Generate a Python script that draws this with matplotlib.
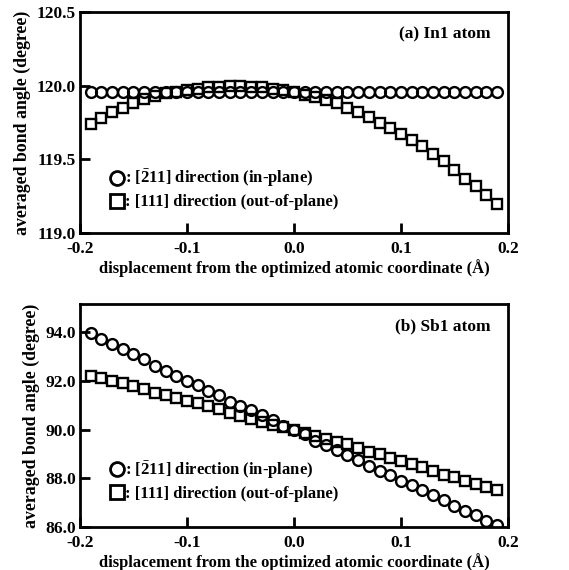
import matplotlib
matplotlib.use("Agg")
import matplotlib.pyplot as plt
from matplotlib.lines import Line2D
import numpy as np

plt.rcParams["font.family"] = ["Liberation Serif", "DejaVu Serif"]
plt.rcParams["font.weight"] = "bold"
plt.rcParams["mathtext.fontset"] = "custom"
plt.rcParams["mathtext.rm"] = "Liberation Serif:bold"
plt.rcParams["mathtext.bf"] = "Liberation Serif:bold"

# displacement (Angstrom)
disp = [round(-0.19 + 0.01 * i, 2) for i in range(39)]

# (a) In1 atom
in1_inplane = [119.96] * 39
in1_outplane = [119.74, 119.78, 119.82, 119.85, 119.88, 119.91, 119.93, 119.95,
                119.96, 119.97, 119.98, 119.99, 119.99, 120.00, 120.00, 119.99,
                119.99, 119.98, 119.97, 119.96, 119.94, 119.92, 119.90, 119.88,
                119.85, 119.82, 119.79, 119.75, 119.71, 119.67, 119.63, 119.59,
                119.54, 119.49, 119.43, 119.37, 119.32, 119.26, 119.20]

# (b) Sb1 atom
sb1_inplane = [93.95, 93.70, 93.50, 93.30, 93.10, 92.90, 92.62, 92.42, 92.20,
               92.00, 91.82, 91.60, 91.40, 91.12, 90.98, 90.80, 90.60, 90.40,
               90.15, 90.00, 89.80, 89.55, 89.38, 89.15, 88.95, 88.75, 88.50,
               88.30, 88.15, 87.90, 87.72, 87.50, 87.30, 87.10, 86.85, 86.66,
               86.50, 86.26, 86.10]
sb1_outplane = [92.20, 92.10, 91.98, 91.90, 91.78, 91.66, 91.52, 91.40, 91.28,
                91.18, 91.08, 90.95, 90.85, 90.70, 90.56, 90.42, 90.30, 90.20,
                90.10, 90.00, 89.86, 89.75, 89.62, 89.50, 89.40, 89.25, 89.10,
                89.00, 88.85, 88.70, 88.60, 88.45, 88.30, 88.15, 88.05, 87.90,
                87.76, 87.65, 87.50]

labels = [r": [$\bar{2}$11] direction (in-plane)", ": [111] direction (out-of-plane)"]

fig = plt.figure(figsize=(5.69, 5.70), dpi=100)
ax1 = fig.add_axes([0.1406, 0.591, 0.752, 0.388])
ax2 = fig.add_axes([0.1406, 0.0754, 0.752, 0.391])

panels = [
    (ax1, in1_inplane, in1_outplane, (119.0, 120.5), [119.0, 119.5, 120.0, 120.5], "(a) In1 atom", 0.035),
    (ax2, sb1_inplane, sb1_outplane, (86.0, 95.15), [86.0, 88.0, 90.0, 92.0, 94.0], "(b) Sb1 atom", 0.045),
]

for ax, inp, outp, ylim, yticks, title, ly in panels:
    ax.plot(disp, inp, "o", ms=7.8, mfc="none", mec="black", mew=1.7)
    ax.plot(disp, outp, "s", ms=7.8, mfc="none", mec="black", mew=1.7)
    ax.set_xlim(-0.2, 0.2)
    ax.set_ylim(*ylim)
    ax.set_xticks([-0.2, -0.1, 0.0, 0.1, 0.2])
    ax.set_xticklabels(["-0.2", "-0.1", "0.0", "0.1", "0.2"])
    ax.set_yticks(yticks)
    ax.set_yticklabels(["%.1f" % v for v in yticks])
    ax.tick_params(direction="in", length=7, width=2, labelsize=12.5)
    ax.tick_params(axis="x", pad=6)
    ax.tick_params(axis="y", pad=3)
    for s in ax.spines.values():
        s.set_linewidth(2)
    ax.set_xlabel("displacement from the optimized atomic coordinate (\u00c5)",
                  fontsize=12, fontweight="bold", labelpad=1)
    ax.set_ylabel("averaged bond angle (degree)", fontsize=12.8, fontweight="bold", labelpad=4)
    ax.text(0.96, 0.9, title, transform=ax.transAxes, ha="right", va="center",
            fontsize=12.5, fontweight="bold")
    handles = [
        Line2D([], [], ls="none", marker="o", ms=10, mfc="none", mec="black", mew=2),
        Line2D([], [], ls="none", marker="s", ms=10, mfc="none", mec="black", mew=2),
    ]
    ax.legend(handles, labels, loc="lower left", bbox_to_anchor=(0.035, ly),
              frameon=False, handlelength=0.8, handletextpad=0.1,
              labelspacing=0.3, prop={"size": 12, "weight": "bold"})

fig.savefig("out.png", dpi=100)
